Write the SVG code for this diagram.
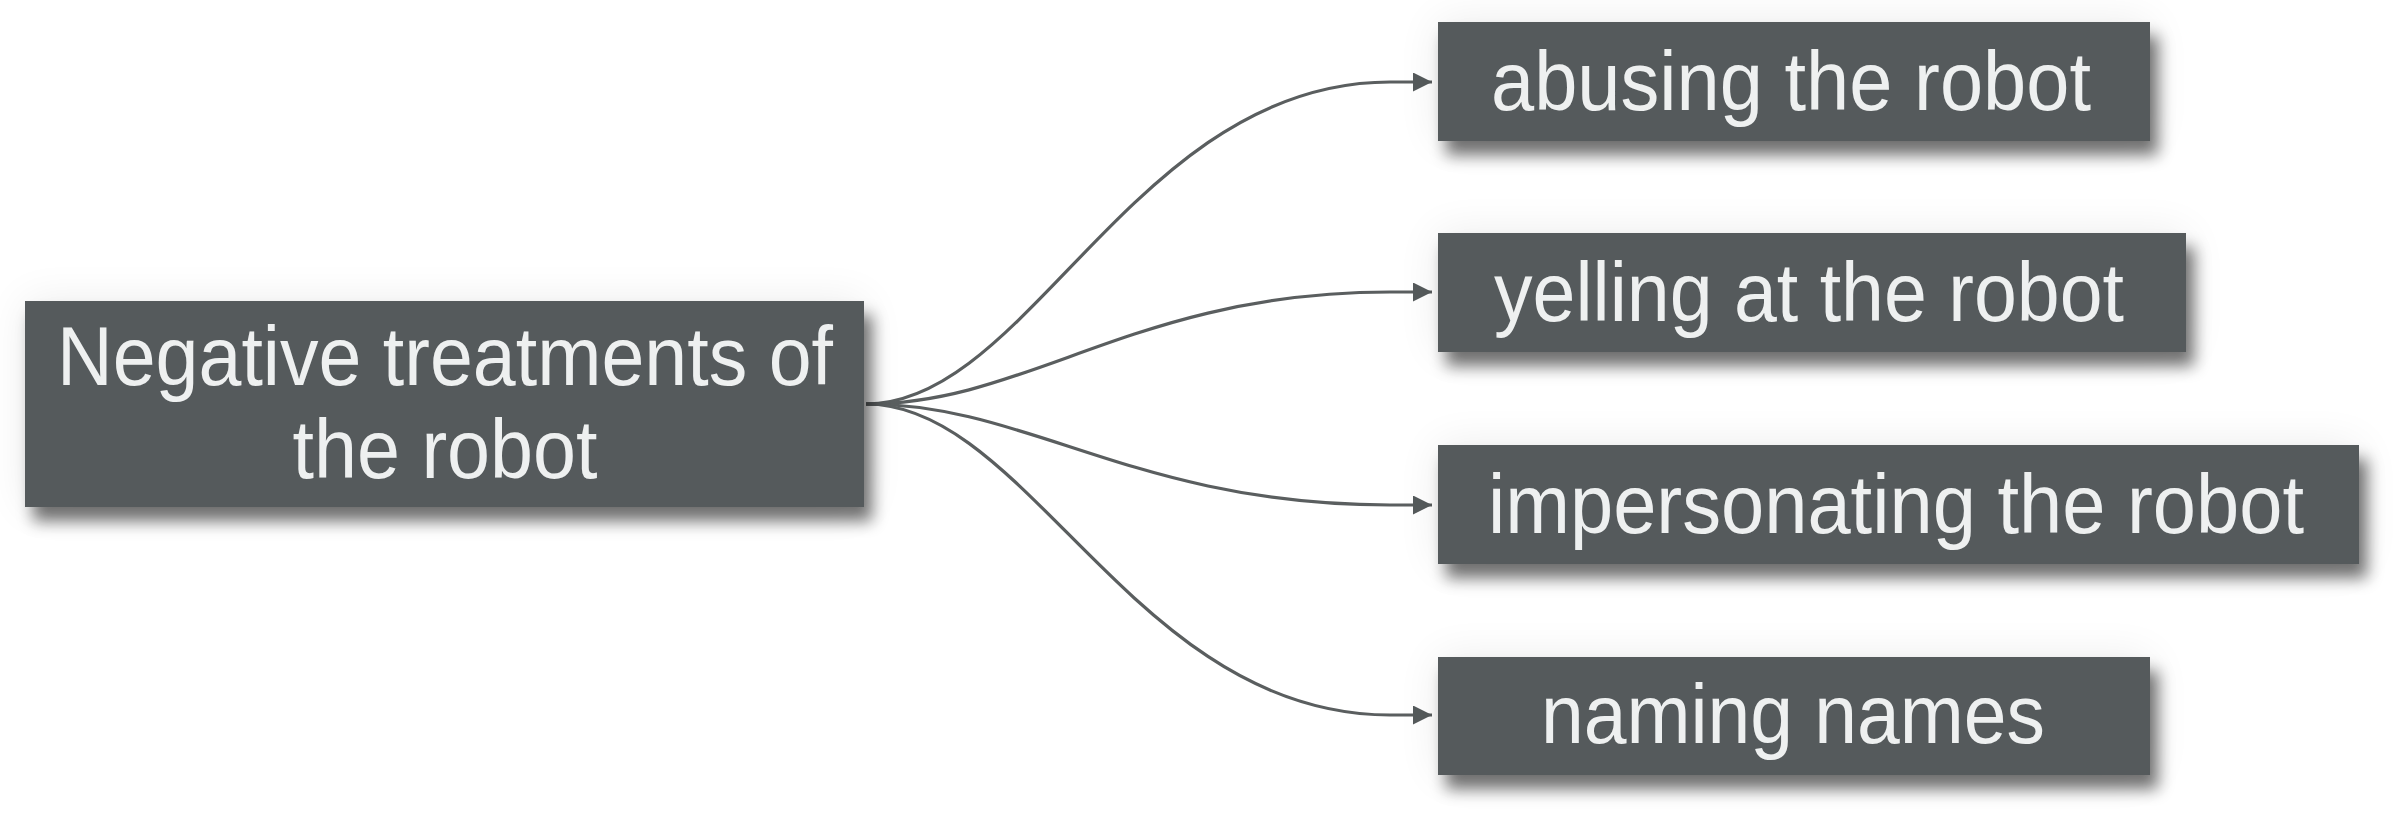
<svg xmlns="http://www.w3.org/2000/svg" width="2397" height="826" viewBox="0 0 2397 826">
<style>
.box{fill:#555a5b;filter:url(#shadow)}
.lbl{font-family:"Liberation Sans",Arial,sans-serif;font-size:84px;fill:#eef0f0;text-anchor:middle}
.conn{fill:none;stroke:#5a5e5f;stroke-width:3.2;marker-end:url(#arrow)}
</style>
<defs>
<filter id="shadow" x="-20%" y="-40%" width="150%" height="200%">
<feGaussianBlur in="SourceAlpha" stdDeviation="22" result="halo"/>
<feComponentTransfer in="halo" result="halo2"><feFuncA type="linear" slope="0.08"/></feComponentTransfer>
<feGaussianBlur in="SourceAlpha" stdDeviation="8" result="b"/>
<feOffset in="b" dx="8" dy="14" result="o"/>
<feComponentTransfer in="o" result="o2"><feFuncA type="linear" slope="0.55"/></feComponentTransfer>
<feMerge><feMergeNode in="halo2"/><feMergeNode in="o2"/><feMergeNode in="SourceGraphic"/></feMerge>
</filter>
<marker id="arrow" viewBox="0 0 10 10" refX="10" refY="5" markerUnits="userSpaceOnUse" markerWidth="24" markerHeight="19" orient="auto">
<path d="M0,0 L10,5 L0,10 z" fill="#555a5b"/>
</marker>
</defs>
<g id="connectors">
<path class="conn" d="M866,404 C1030,404 1135,82 1390,82 L1432,82"/>
<path class="conn" d="M866,404 C1030,404 1135,292 1390,292 L1432,292"/>
<path class="conn" d="M866,404 C1030,404 1135,505 1390,505 L1432,505"/>
<path class="conn" d="M866,404 C1030,404 1135,715 1390,715 L1432,715"/>
</g>
<g id="node-root">
<rect class="box" x="25" y="301" width="839" height="206"/>
<text class="lbl" x="445" y="385" textLength="776" lengthAdjust="spacingAndGlyphs">Negative treatments of</text>
<text class="lbl" x="445" y="478" textLength="305" lengthAdjust="spacingAndGlyphs">the robot</text>
</g>
<g id="node-abusing">
<rect class="box" x="1438" y="22" width="712" height="119"/>
<text class="lbl" x="1791" y="110" textLength="600" lengthAdjust="spacingAndGlyphs">abusing the robot</text>
</g>
<g id="node-yelling">
<rect class="box" x="1438" y="233" width="748" height="119"/>
<text class="lbl" x="1809" y="321" textLength="630" lengthAdjust="spacingAndGlyphs">yelling at the robot</text>
</g>
<g id="node-impersonating">
<rect class="box" x="1438" y="445" width="921" height="119"/>
<text class="lbl" x="1896" y="533" textLength="816" lengthAdjust="spacingAndGlyphs">impersonating the robot</text>
</g>
<g id="node-naming">
<rect class="box" x="1438" y="657" width="712" height="118"/>
<text class="lbl" x="1793" y="743" textLength="504" lengthAdjust="spacingAndGlyphs">naming names</text>
</g>
</svg>
